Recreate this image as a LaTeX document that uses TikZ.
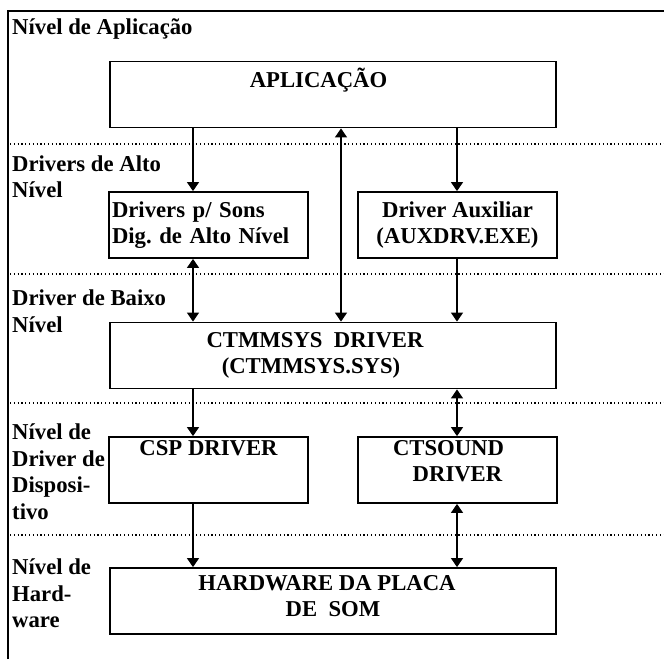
\documentclass[tikz,border=0pt]{standalone}
\usepackage{fontspec}
\setmainfont{Liberation Serif}
\usetikzlibrary{arrows.meta}
\frenchspacing

\begin{document}
\begin{tikzpicture}[
    x=1pt, y=-1pt,
    every node/.style={font=\fontsize{22.7}{26.5}\selectfont\bfseries},
    box/.style={draw, line width=1.8pt, inner xsep=3pt, inner ysep=2pt, align=center},
    widebox/.style={box, minimum width=446pt, minimum height=66pt},
    smallbox/.style={box, minimum width=199pt, minimum height=66pt},
    lvl/.style={anchor=north west, align=left, inner sep=0pt},
    sep/.style={line width=1.2pt, dash pattern=on 1.2pt off 2.6pt},
    frame/.style={line width=2.2pt},
    arr/.style={-{Triangle[width=12pt,length=9pt]}, line width=1.2pt},
    dup/.style={{Triangle[width=12pt,length=9pt]}-{Triangle[width=12pt,length=9pt]}, line width=1.2pt}
]
\useasboundingbox (0,0) rectangle (664,659);

% moldura e separadores
\draw[frame] (8,659) -- (8,11) -- (664,11);
\foreach \y in {144,274,403,535} {
    \draw[sep] (10,\y) -- (664,\y);
}

% nomes dos niveis
\node[lvl] (nApp) at (12,18) {Nível de Aplicação};
\node[lvl] (nAlto) at (12,155.5) {Drivers de Alto\\Nível};
\node[lvl] (nBaixo) at (12,290) {Driver de Baixo\\Nível};
\node[lvl] (nDisp) at (12,424) {Nível de\\Driver de\\Disposi-\\tivo};
\node[lvl] (nHw) at (12,559) {Nível de\\Hard-\\ware};

% blocos
\node[widebox, text height=15pt, text depth=30pt] (app) at (333,94.5) {APLICAÇÃO\hspace*{29pt}};
\node[smallbox, text width=193pt, align=left] (dsom) at (208.5,225) {Drivers p/ Sons\\Dig. de Alto Nível};
\node[smallbox] (aux) at (457.5,225) {Driver Auxiliar\\(AUXDRV.EXE)};
\node[widebox] (ctmm) at (333,355.5) {CTMMSYS\ \ DRIVER\hspace*{36pt}\\(CTMMSYS.SYS)\hspace*{44pt}};
\node[smallbox, text height=15pt, text depth=45pt] (csp) at (208.5,470) {CSP DRIVER};
\node[smallbox] (ctsound) at (457.5,470) {CTSOUND\hspace*{18pt}\\DRIVER\hspace*{15pt}\\[-8pt]\mbox{}};
\node[widebox] (hw) at (333,601) {HARDWARE DA PLACA\hspace*{12pt}\\DE\ \ SOM\hspace*{42pt}\\[-16pt]\mbox{}};

% colunas das setas
\coordinate (colL) at (193,0);
\coordinate (colM) at (341,0);
\coordinate (colR) at (457,0);

% setas
\draw[arr] (app.south -| colL) -- (dsom.north -| colL);
\draw[arr] (app.south -| colR) -- (aux.north -| colR);
\draw[dup] (app.south -| colM) -- (ctmm.north -| colM);
\draw[dup] (dsom.south -| colL) -- (ctmm.north -| colL);
\draw[arr] (aux.south -| colR) -- (ctmm.north -| colR);
\draw[arr] (ctmm.south -| colL) -- (csp.north -| colL);
\draw[dup] (ctmm.south -| colR) -- (ctsound.north -| colR);
\draw[arr] (csp.south -| colL) -- (hw.north -| colL);
\draw[dup] (ctsound.south -| colR) -- (hw.north -| colR);

\end{tikzpicture}
\end{document}
